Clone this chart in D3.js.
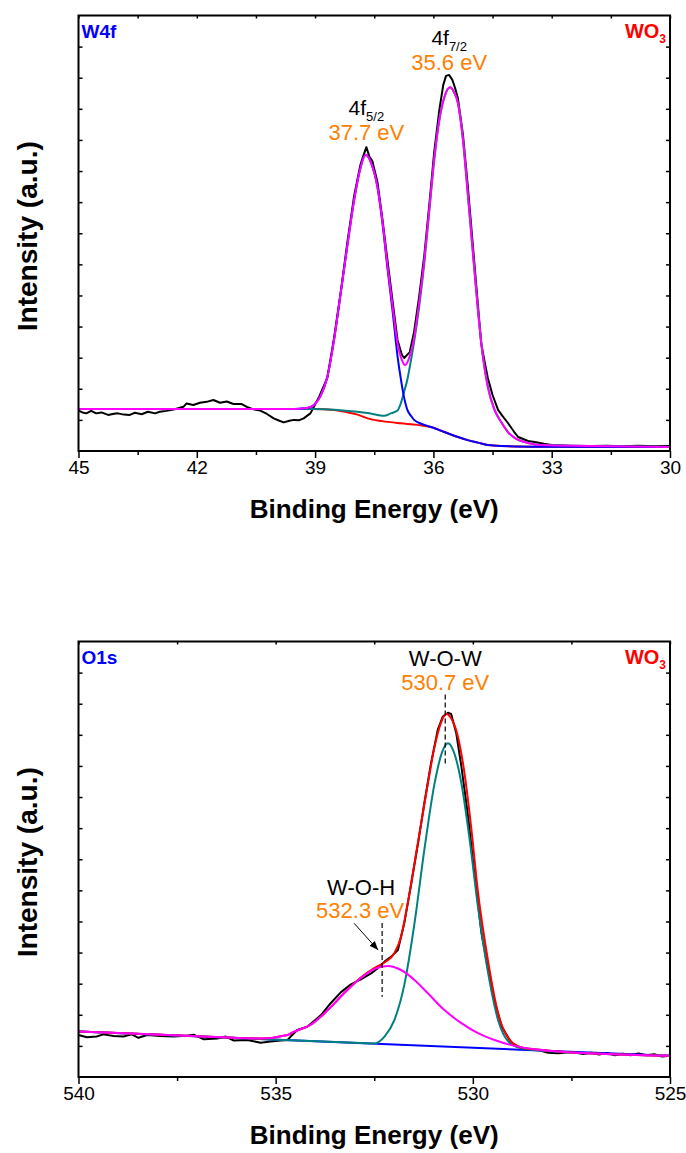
<!DOCTYPE html>
<html>
<head>
<meta charset="utf-8">
<script src="https://cdn.jsdelivr.net/npm/d3@7"></script>
<style>
body { margin: 0; background: #fff; }
text { font-family: Arial, "Liberation Sans", sans-serif; }
</style>
</head>
<body>
<div id="canvas"></div>
<script>
"use strict"

let svgWidth = 686;
let svgHeight = 1153;
let plotLeft = 78.5;
let plotRight = 670;

/* W4f spectrum : [binding energy (eV), intensity (a.u.)] */
let w4fTicks = [45, 42, 39, 36, 33, 30];
let w4fMinorTicks = [43.5, 40.5, 37.5, 34.5, 31.5];

let w4fData = [
    [45.00,1.30],[44.90,1.24],[44.80,1.21],[44.68,1.29],[44.55,1.21],[44.42,1.24],[44.25,1.16],[44.10,1.20],
    [44.00,1.21],[43.85,1.17],[43.70,1.16],[43.57,1.23],[43.40,1.18],[43.24,1.26],[43.06,1.21],[42.94,1.26],
    [42.77,1.29],[42.56,1.34],[42.34,1.42],[42.26,1.53],[42.09,1.48],[41.92,1.55],[41.75,1.58],[41.58,1.64],
    [41.41,1.55],[41.24,1.59],[41.07,1.51],[40.86,1.51],[40.73,1.42],[40.56,1.34],[40.39,1.30],[40.22,1.19],
    [40.05,1.05],[39.92,0.98],[39.80,0.92],[39.65,0.97],[39.54,1.00],[39.40,0.99],[39.29,1.05],[39.12,1.21],
    [39.03,1.42],[38.90,1.74],[38.69,2.35],[38.52,3.63],[38.35,5.11],[38.18,6.72],[38.01,8.20],[37.85,9.20],
    [37.78,9.48],[37.70,9.77],[37.62,9.45],[37.55,9.33],[37.42,8.65],[37.29,7.43],[37.16,6.08],[37.03,4.76],
    [36.91,3.57],[36.80,3.09],[36.74,2.99],[36.66,3.10],[36.60,3.18],[36.49,3.83],[36.36,4.98],[36.23,6.30],
    [36.10,7.97],[35.98,9.61],[35.85,10.96],[35.75,11.77],[35.68,12.06],[35.60,12.09],[35.52,11.93],[35.45,11.67],
    [35.38,11.35],[35.25,10.16],[35.13,8.55],[35.00,6.62],[34.87,4.69],[34.79,3.47],[34.70,2.86],[34.62,2.35],
    [34.50,1.80],[34.36,1.32],[34.25,1.13],[34.11,0.90],[33.95,0.61],[33.85,0.45],[33.60,0.32],[33.43,0.29],
    [33.20,0.23],[33.00,0.19],[32.70,0.18],[32.40,0.15],[32.00,0.16],[31.60,0.17],[31.20,0.15],[30.80,0.17],
    [30.40,0.15],[30.00,0.16]
];

let w4fEnvelope = [
    [45.0,1.35],[42.0,1.35],[39.6,1.35],[39.4,1.36],[39.2,1.38],[39.03,1.48],[38.86,1.77],[38.69,2.38],
    [38.52,3.57],[38.35,5.08],[38.18,6.62],[38.01,8.07],[37.85,9.10],[37.72,9.52],[37.58,9.26],[37.42,8.49],
    [37.29,7.36],[37.16,5.92],[37.03,4.60],[36.91,3.47],[36.80,2.93],[36.72,2.76],[36.60,3.05],[36.49,3.63],
    [36.36,4.79],[36.23,6.14],[36.10,7.81],[35.98,9.36],[35.85,10.64],[35.72,11.38],[35.58,11.69],[35.48,11.54],
    [35.38,11.19],[35.25,10.00],[35.13,8.30],[35.00,6.40],[34.87,4.53],[34.75,3.09],[34.62,2.06],[34.45,1.32],
    [34.28,0.93],[34.11,0.61],[33.94,0.42],[33.60,0.26],[33.26,0.19],[32.00,0.16],[30.00,0.13]
];

let w4fPeak52 = [
    [45.0,1.35],[39.6,1.35],[39.4,1.36],[39.2,1.38],[39.03,1.48],[38.86,1.77],[38.69,2.38],[38.52,3.57],
    [38.35,5.08],[38.18,6.62],[38.01,8.07],[37.85,9.10],[37.72,9.52],[37.58,9.26],[37.42,8.49],[37.29,7.30],
    [37.16,5.82],[37.03,4.44],[36.91,3.05],[36.83,2.35],[36.74,1.70],[36.66,1.32],[36.55,1.10],[36.49,1.00],
    [36.23,0.84],[36.06,0.77],[35.72,0.61],[35.38,0.45],[35.13,0.35],[34.87,0.27],[34.62,0.19],[34.28,0.16],
    [33.26,0.14],[30.0,0.13]
];

let w4fPeak72 = [
    [45.0,1.35],[39.4,1.35],[39.03,1.35],[38.52,1.33],[38.0,1.27],[37.67,1.22],[37.42,1.16],[37.25,1.13],
    [37.08,1.21],[36.91,1.30],[36.83,1.52],[36.74,1.92],[36.66,2.30],[36.6,2.70],[36.49,3.50],[36.36,4.65],
    [36.23,6.05],[36.1,7.78],[35.98,9.36],[35.85,10.64],[35.72,11.38],[35.58,11.69],[35.48,11.54],[35.38,11.19],
    [35.25,10.00],[35.13,8.30],[35.0,6.40],[34.87,4.53],[34.75,3.09],[34.62,2.06],[34.45,1.32],[34.28,0.93],
    [34.11,0.61],[33.94,0.42],[33.6,0.26],[33.26,0.19],[32.0,0.16],[30.0,0.13]
];

let w4fBackground = [
    [45.0,1.35],[39.4,1.35],[39.03,1.35],[38.52,1.32],[38.2,1.25],[37.9,1.16],[37.67,1.05],[37.3,0.96],
    [36.83,0.89],[36.4,0.84],[36.06,0.77],[35.72,0.61],[35.38,0.45],[35.13,0.35],[34.87,0.27],[34.62,0.19],
    [34.28,0.16],[33.26,0.14],[30.0,0.13]
];

let w4fLabels = [
    {orbital: "4f", sub: "7/2", energy: 35.6, text: "35.6 eV"},
    {orbital: "4f", sub: "5/2", energy: 37.7, text: "37.7 eV"}
];

/* O1s spectrum : [binding energy (eV), intensity (a.u.)] */
let o1sTicks = [540, 535, 530, 525];
let o1sMinorTicks = [537.5, 532.5, 527.5];

let o1sData = [
    [540.00,1.35],[539.79,1.28],[539.54,1.30],[539.37,1.37],[539.11,1.32],[538.86,1.30],[538.65,1.37],[538.48,1.26],
    [538.26,1.35],[537.93,1.32],[537.59,1.30],[537.25,1.33],[537.08,1.36],[536.82,1.21],[536.48,1.24],[536.27,1.30],
    [536.06,1.17],[535.72,1.19],[535.38,1.10],[535.13,1.14],[534.87,1.17],[534.70,1.19],[534.62,1.30],[534.45,1.51],
    [534.19,1.62],[533.85,1.99],[533.60,2.38],[533.35,2.72],[533.09,2.98],[532.84,3.14],[532.58,3.33],[532.41,3.50],
    [532.24,3.71],[532.07,3.87],[531.90,4.08],[531.74,4.94],[531.56,6.23],[531.39,7.51],[531.23,8.80],[531.06,10.09],
    [530.89,11.16],[530.76,11.59],[530.63,11.71],[530.55,11.67],[530.42,11.05],[530.29,9.98],[530.12,8.37],[529.95,6.44],
    [529.78,4.62],[529.52,2.80],[529.27,1.62],[529.01,1.08],[528.85,0.97],[528.60,0.89],[528.34,0.87],[528.09,0.78],
    [527.83,0.76],[527.50,0.80],[527.20,0.74],[527.00,0.78],[526.80,0.72],[526.60,0.77],[526.40,0.70],[526.20,0.75],
    [526.00,0.70],[525.80,0.76],[525.60,0.70],[525.40,0.73],[525.20,0.66],[525.00,0.68]
];

let o1sEnvelope = [
    [540,1.46],[537.09,1.32],[535.38,1.24],[534.70,1.35],[534.53,1.46],[534.11,1.68],[533.68,2.15],[533.26,2.70],
    [532.84,3.20],[532.5,3.50],[532.24,3.68],[531.99,3.98],[531.82,4.51],[531.65,5.59],[531.48,6.87],[531.31,8.16],
    [531.14,9.44],[530.97,10.62],[530.80,11.42],[530.67,11.67],[530.55,11.53],[530.38,10.95],[530.21,9.75],[530.04,8.00],
    [529.87,5.95],[529.61,3.70],[529.36,2.05],[529.10,1.25],[528.77,0.95],[528.43,0.89],[527.75,0.81],[525,0.68]
];

let o1sWOW = [
    [540,1.46],[535,1.20],[533,1.10],[532.5,1.08],[532.24,1.30],[531.99,1.83],[531.73,3.01],[531.48,4.94],
    [531.23,7.30],[530.97,9.44],[530.76,10.51],[530.63,10.73],[530.50,10.51],[530.29,9.44],[530.08,7.62],[529.87,5.48],
    [529.61,3.33],[529.36,1.83],[529.10,1.14],[528.77,0.92],[528.3,0.85],[525,0.68]
];

let o1sWOH = [
    [540,1.46],[537.09,1.32],[535.38,1.24],[534.70,1.35],[534.53,1.46],[534.11,1.68],[533.68,2.15],[533.26,2.70],
    [532.84,3.18],[532.50,3.47],[532.16,3.57],[531.82,3.44],[531.48,3.12],[531.14,2.69],[530.72,2.15],[530.29,1.73],
    [529.87,1.41],[529.45,1.19],[528.94,1.00],[528.43,0.89],[527.75,0.81],[525,0.68]
];

let o1sBackground = [[540,1.46],[525,0.68]];

let o1sLabels = [
    {name: "W-O-W", energy: 530.7, text: "530.7 eV"},
    {name: "W-O-H", energy: 532.3, text: "532.3 eV"}
];

/* Create drawing canvas */
let svg = d3.select("#canvas")
    .append("svg")
    .attr("width", svgWidth)
    .attr("height", svgHeight);

svg.append("defs")
    .append("marker")
    .attr("id", "arrowHead")
    .attr("viewBox", "0 0 10 10")
    .attr("refX", 10)
    .attr("refY", 5)
    .attr("markerWidth", 9)
    .attr("markerHeight", 9)
    .attr("markerUnits", "userSpaceOnUse")
    .attr("orient", "auto")
    .append("path")
    .attr("d", "M0,1 L10,5 L0,9 z")
    .attr("fill", "black");

/* One framed spectrum with its axes, returns the scales */
function drawPanel(panel) {
    let xScale = d3.scaleLinear()
        .domain(panel.domain)
        .range([plotLeft, plotRight]);

    let yScale = d3.scaleLinear()
        .domain([0, 14])
        .range([panel.bottom, panel.top]);

    let g = svg.append("g");

    // ticks
    let majorAxis = d3.axisBottom(xScale)
        .tickValues(panel.ticks)
        .tickSize(7)
        .tickPadding(3)
        .tickFormat(d3.format("d"));
    let minorAxis = d3.axisBottom(xScale)
        .tickValues(panel.minor)
        .tickSize(4)
        .tickFormat("");

    let bottomAxis = g.append("g")
        .attr("transform", "translate(0," + panel.bottom + ")")
        .call(majorAxis);
    bottomAxis.selectAll("text")
        .attr("font-size", 19)
        .attr("fill", "black")
        .style("font-family", "Arial, 'Liberation Sans', sans-serif");

    g.append("g")
        .attr("transform", "translate(0," + panel.bottom + ")")
        .call(minorAxis);

    g.append("g")
        .attr("transform", "translate(0," + panel.top + ")")
        .call(d3.axisTop(xScale)
            .tickValues(panel.ticks.concat(panel.minor))
            .tickSize(-3)
            .tickFormat(""));

    let yTicks = d3.range(1, 14);
    g.append("g")
        .attr("transform", "translate(" + plotLeft + ",0)")
        .call(d3.axisLeft(yScale).tickValues(yTicks).tickSize(-4).tickFormat(""));
    g.append("g")
        .attr("transform", "translate(" + plotRight + ",0)")
        .call(d3.axisRight(yScale).tickValues(yTicks).tickSize(-4).tickFormat(""));

    g.selectAll(".domain").remove();
    g.selectAll(".tick line")
        .attr("stroke", "black")
        .attr("stroke-width", 1.5);

    /* spectra */
    let smooth = d3.line()
        .x(d => xScale(d[0]))
        .y(d => yScale(d[1]))
        .curve(d3.curveMonotoneX);
    let raw = d3.line()
        .x(d => xScale(d[0]))
        .y(d => yScale(d[1]));

    panel.series.forEach(function (s) {
        g.append("path")
            .datum(s.values)
            .attr("fill", "none")
            .attr("stroke", s.color)
            .attr("stroke-width", 2)
            .attr("stroke-linejoin", "round")
            .attr("d", s.measured ? raw : smooth);
    });

    /* frame */
    g.append("rect")
        .attr("x", plotLeft)
        .attr("y", panel.top)
        .attr("width", plotRight - plotLeft)
        .attr("height", panel.bottom - panel.top)
        .attr("fill", "none")
        .attr("stroke", "black")
        .attr("stroke-width", 2);

    /* axis titles */
    g.append("text")
        .attr("x", (plotLeft + plotRight) / 2)
        .attr("y", panel.bottom + 67)
        .attr("text-anchor", "middle")
        .attr("font-size", 26)
        .attr("font-weight", "bold")
        .attr("textLength", 249)
        .attr("lengthAdjust", "spacingAndGlyphs")
        .text("Binding Energy (eV)");

    let midY = (panel.top + panel.bottom) / 2 + 3;
    g.append("text")
        .attr("transform", "translate(37," + midY + ") rotate(-90)")
        .attr("text-anchor", "middle")
        .attr("font-size", 27)
        .attr("font-weight", "bold")
        .attr("textLength", 190)
        .attr("lengthAdjust", "spacingAndGlyphs")
        .text("Intensity (a.u.)");

    /* corner labels */
    g.append("text")
        .attr("x", plotLeft + 3)
        .attr("y", panel.top + 22)
        .attr("font-size", 19)
        .attr("font-weight", "bold")
        .attr("fill", "#0000ff")
        .text(panel.name);

    let wo3 = g.append("text")
        .attr("x", plotRight - 4)
        .attr("y", panel.top + 22)
        .attr("text-anchor", "end")
        .attr("font-weight", "bold")
        .attr("fill", "#ff0000");
    wo3.append("tspan").attr("font-size", 20).text("WO");
    wo3.append("tspan").attr("font-size", 12).attr("dy", 5).text("3");

    return {x: xScale, y: yScale, g: g};
}

/* Top panel : W4f */
let w4fPanel = drawPanel({
    name: "W4f",
    domain: [45, 30],
    ticks: w4fTicks,
    minor: w4fMinorTicks,
    top: 15.5,
    bottom: 451,
    series: [
        {values: w4fData, color: "black", measured: true},
        {values: w4fBackground, color: "#ff0000"},
        {values: w4fPeak72, color: "#008080"},
        {values: w4fPeak52, color: "#0000ff"},
        {values: w4fEnvelope, color: "#ff00ff"}
    ]
});

// peak names sit above each maximum
let labelLevels = [13.05, 10.8];
w4fLabels.forEach(function (lab, i) {
    let cx = w4fPanel.x(lab.energy);
    let cy = w4fPanel.y(labelLevels[i]);
    let t = w4fPanel.g.append("text")
        .attr("x", cx)
        .attr("y", cy)
        .attr("text-anchor", "middle")
        .attr("fill", "black");
    t.append("tspan").attr("font-size", 21).text(lab.orbital);
    t.append("tspan").attr("font-size", 13).attr("dy", 6).text(lab.sub);

    w4fPanel.g.append("text")
        .attr("x", cx)
        .attr("y", cy + 25)
        .attr("text-anchor", "middle")
        .attr("font-size", 22)
        .attr("fill", "#ff8000")
        .text(lab.text);
});

/* Bottom panel : O1s */
let o1sPanel = drawPanel({
    name: "O1s",
    domain: [540, 525],
    ticks: o1sTicks,
    minor: o1sMinorTicks,
    top: 641.5,
    bottom: 1077,
    series: [
        {values: o1sData, color: "black", measured: true},
        {values: o1sBackground, color: "#0000ff"},
        {values: o1sWOW, color: "#008080"},
        {values: o1sEnvelope, color: "#ff0000"},
        {values: o1sWOH, color: "#ff00ff"}
    ]
});

// W-O-W label and marker
let wow = o1sLabels[0];
let wowX = o1sPanel.x(wow.energy);
o1sPanel.g.append("text")
    .attr("x", wowX)
    .attr("y", o1sPanel.y(13.2))
    .attr("text-anchor", "middle")
    .attr("font-size", 22)
    .text(wow.name);
o1sPanel.g.append("text")
    .attr("x", wowX)
    .attr("y", o1sPanel.y(12.43))
    .attr("text-anchor", "middle")
    .attr("font-size", 22)
    .attr("fill", "#ff8000")
    .text(wow.text);
o1sPanel.g.append("line")
    .attr("x1", wowX).attr("x2", wowX)
    .attr("y1", o1sPanel.y(12.3)).attr("y2", o1sPanel.y(10.0))
    .attr("stroke", "black")
    .attr("stroke-width", 1.2)
    .attr("stroke-dasharray", "5,3");

// W-O-H label, marker and arrow
let woh = o1sLabels[1];
let wohX = o1sPanel.x(woh.energy);
o1sPanel.g.append("text")
    .attr("x", wohX - 21)
    .attr("y", o1sPanel.y(5.85))
    .attr("text-anchor", "middle")
    .attr("font-size", 22)
    .text(woh.name);
o1sPanel.g.append("text")
    .attr("x", wohX - 22)
    .attr("y", o1sPanel.y(5.1))
    .attr("text-anchor", "middle")
    .attr("font-size", 22)
    .attr("fill", "#ff8000")
    .text(woh.text);
o1sPanel.g.append("line")
    .attr("x1", wohX).attr("x2", wohX)
    .attr("y1", o1sPanel.y(4.95)).attr("y2", o1sPanel.y(2.58))
    .attr("stroke", "black")
    .attr("stroke-width", 1.2)
    .attr("stroke-dasharray", "5,3");
o1sPanel.g.append("line")
    .attr("x1", wohX - 28).attr("y1", o1sPanel.y(4.94))
    .attr("x2", wohX - 4).attr("y2", o1sPanel.y(4.08))
    .attr("stroke", "black")
    .attr("stroke-width", 1)
    .attr("marker-end", "url(#arrowHead)");
</script>
</body>
</html>
